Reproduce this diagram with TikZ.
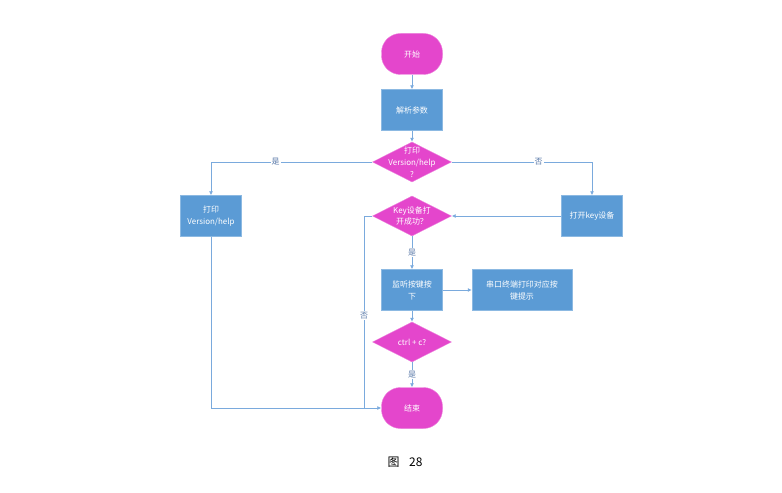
\documentclass[tikz,border=0pt]{standalone}
\usepackage{fontspec}
\setmainfont{Noto Sans CJK SC}
\usetikzlibrary{arrows.meta, positioning, shapes.geometric}
\definecolor{flowblue}{HTML}{5B9BD5}
\definecolor{flowpink}{HTML}{E446CC}
\definecolor{lineblue}{HTML}{7AAADD}
\definecolor{yesno}{HTML}{5878A8}

\begin{document}
\begin{tikzpicture}[x=1bp,y=-1bp,
            box/.style = {rectangle, fill=flowblue, draw=flowblue!70!white, text=white,
                minimum width=61bp, minimum height=41bp, inner sep=1bp, align=center,
                font=\fontsize{8}{12}\selectfont},
            term/.style = {box, fill=flowpink, draw=flowpink!70!white, rounded corners=19bp},
            ask/.style = {diamond, fill=flowpink, draw=flowpink!70!white, inner sep=0pt,
                minimum width=79bp, minimum height=40bp},
            asktxt/.style = {text=white, align=center, inner sep=0pt,
                font=\fontsize{8}{12}\selectfont},
            yn/.style = {fill=white, text=yesno, inner sep=1pt, font=\fontsize{8}{9}\selectfont},
            flow/.style = {draw=lineblue, line width=0.8bp, -{Latex[length=4bp,width=4bp]}},
            link/.style = {draw=lineblue, line width=0.8bp}]
            \useasboundingbox (0,0) rectangle (782,493);
            % main column
            \node[term] (start) at (412,54) {开始};
            \node[box] (parse) at (412,110) {解析参数};
            \node[ask, label={[asktxt]center:打印\\Version/help\\?}] (q1) at (412,162) {};
            \node[box] (printver) at (211,216) {打印\\Version/help};
            \node[ask, label={[asktxt]center:Key设备打\\开成功？}] (q2) at (412,216) {};
            \node[box] (openkey) at (592,216) {打开key设备};
            \node[box] (listen) at (412,290) {监听按键按\\下};
            \node[box, minimum width=100bp] (uartmsg) at (522,290) {串口终端打印对应按\\键提示};
            \node[ask, label={[asktxt]center:ctrl + c?}] (q3) at (412,342) {};
            \node[term] (finish) at (412,408) {结束};
            \node[font=\fontsize{12}{14}\selectfont] (caption) at (405,462) {图\hspace{0.8em}28};
            % return lines
            \coordinate (nleft) at (364,216);
            \coordinate (njoin) at (nleft |- finish.west);
            % connectors
            \path[flow] (start) -- (parse);
            \path[flow] (parse) -- (q1);
            \path[flow] (q1.west) -| (printver.north) node[yn, pos=0.3] {是};
            \path[flow] (q1.east) -| (openkey.north) node[yn, pos=0.31] {否};
            \path[flow] (openkey.west) -- (q2.east);
            \path[flow] (q2.south) -- (listen.north) node[yn, midway] {是};
            \path[flow] (listen.east) -- (uartmsg.west);
            \path[flow] (listen.south) -- (q3.north);
            \path[flow] (q3.south) -- (finish.north) node[yn, midway] {是};
            \path[flow] (q2.west) -- (nleft) |- (finish.west) node[yn, pos=0.26] {否};
            \path[link] (printver.south) |- (njoin);
        \end{tikzpicture}
\end{document}
